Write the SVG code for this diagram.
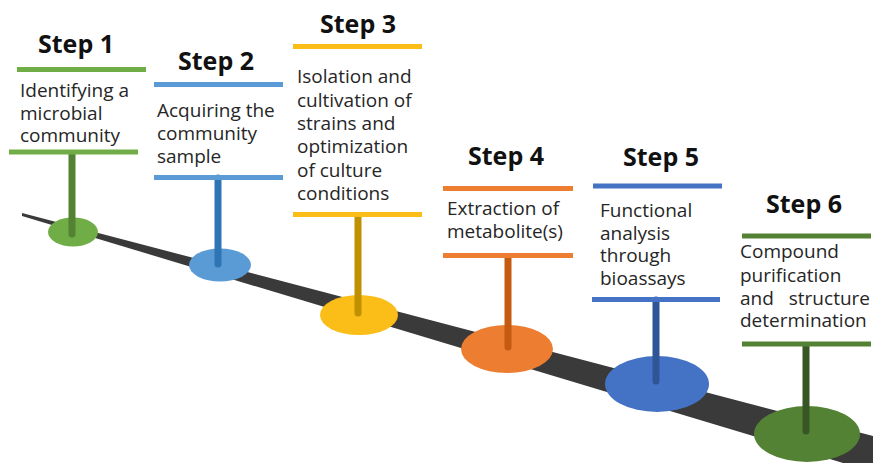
<svg xmlns="http://www.w3.org/2000/svg" width="873" height="463" viewBox="0 0 873 463">
<style>
.title{font-family:"Open Sans","Liberation Sans",sans-serif;font-weight:700;font-size:25px;fill:#111;text-anchor:middle}
.body{font-family:"Open Sans","Liberation Sans",sans-serif;font-size:19px;fill:#262626}
.bar{stroke-width:5}
.stem{stroke-width:7;stroke-linecap:round}
</style>
<rect width="873" height="463" fill="#fff"/>
<g id="connectors">
<polygon id="road" points="22,213 873,436 873,472 22,216" fill="#3a3a3a"/>
</g>
<g id="step1">
<ellipse cx="73" cy="232" rx="25" ry="14.5" fill="#70ad47"/>
<line class="stem" x1="72" y1="154" x2="72" y2="234" stroke="#548235"/>
<line class="bar" x1="17" y1="69.5" x2="146" y2="69.5" stroke="#70ad47"/>
<line class="bar" x1="9" y1="152" x2="138" y2="152" stroke="#70ad47"/>
<text class="title" x="76" y="53">Step 1</text>
<text class="body" x="20"><tspan x="20" y="97">Identifying a</tspan><tspan x="20" y="120">microbial</tspan><tspan x="20" y="142">community</tspan></text>
</g>
<g id="step2">
<ellipse cx="220" cy="265" rx="31" ry="16.5" fill="#5b9bd5"/>
<line class="stem" x1="218" y1="178" x2="218" y2="264" stroke="#2e75b6"/>
<line class="bar" x1="154" y1="84.5" x2="283" y2="84.5" stroke="#5b9bd5"/>
<line class="bar" x1="154" y1="177.5" x2="283" y2="177.5" stroke="#5b9bd5"/>
<text class="title" x="216" y="70">Step 2</text>
<text class="body"><tspan x="157" y="117">Acquiring the</tspan><tspan x="157" y="140">community</tspan><tspan x="157" y="163">sample</tspan></text>
</g>
<g id="step3">
<ellipse cx="359" cy="315" rx="39" ry="20" fill="#fbbd17"/>
<line class="stem" x1="358" y1="217" x2="358" y2="313" stroke="#bf9000"/>
<line class="bar" x1="293" y1="46.5" x2="422" y2="46.5" stroke="#fbbd17"/>
<line class="bar" x1="293" y1="214.5" x2="422" y2="214.5" stroke="#fbbd17"/>
<text class="title" x="358" y="33">Step 3</text>
<text class="body"><tspan x="297" y="83">Isolation and</tspan><tspan x="297" y="106.5">cultivation of</tspan><tspan x="297" y="130">strains and</tspan><tspan x="297" y="153">optimization</tspan><tspan x="297" y="177">of culture</tspan><tspan x="297" y="200">conditions</tspan></text>
</g>
<g id="step4">
<ellipse cx="507" cy="349" rx="46" ry="24" fill="#ed7d31"/>
<line class="stem" x1="508" y1="258" x2="508" y2="347" stroke="#c55a11"/>
<line class="bar" x1="443" y1="188.5" x2="573" y2="188.5" stroke="#ed7d31"/>
<line class="bar" x1="443" y1="255.5" x2="573" y2="255.5" stroke="#ed7d31"/>
<text class="title" x="506" y="165">Step 4</text>
<text class="body"><tspan x="447" y="215">Extraction of</tspan><tspan x="447" y="238">metabolite(s)</tspan></text>
</g>
<g id="step5">
<ellipse cx="657" cy="384" rx="52" ry="28" fill="#4472c4"/>
<line class="stem" x1="656" y1="300" x2="656" y2="381" stroke="#2f5597"/>
<line class="bar" x1="593" y1="186" x2="722" y2="186" stroke="#4472c4"/>
<line class="bar" x1="592" y1="299.5" x2="720" y2="299.5" stroke="#4472c4"/>
<text class="title" x="661" y="166">Step 5</text>
<text class="body"><tspan x="600" y="217">Functional</tspan><tspan x="600" y="239.5">analysis</tspan><tspan x="600" y="262">through</tspan><tspan x="600" y="285">bioassays</tspan></text>
</g>
<g id="step6">
<ellipse cx="807" cy="434" rx="53" ry="28" fill="#548235"/>
<line class="stem" x1="806" y1="346" x2="806" y2="431" stroke="#375623"/>
<line class="bar" x1="742" y1="236" x2="871" y2="236" stroke="#548235"/>
<line class="bar" x1="742" y1="344" x2="871" y2="344" stroke="#548235"/>
<text class="title" x="804" y="213">Step 6</text>
<text class="body"><tspan x="740" y="258">Compound</tspan><tspan x="740" y="282">purification</tspan><tspan x="740" y="305">and</tspan><tspan x="870" y="305" text-anchor="end">structure</tspan><tspan x="740" y="327">determination</tspan></text>
</g>
</svg>
